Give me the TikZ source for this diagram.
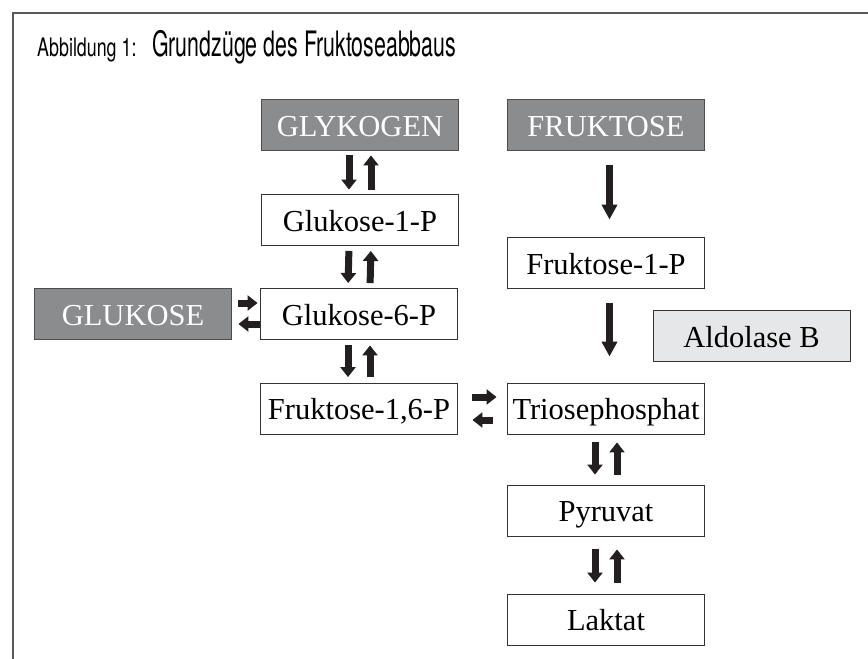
\documentclass[tikz,border=0pt]{standalone}
\usepackage{fontspec}
\setmainfont{Liberation Serif}
\newfontfamily\condfont[FakeStretch=0.61]{TeX Gyre Heros}
\newfontfamily\condsmall[FakeStretch=0.7]{TeX Gyre Heros}
\usetikzlibrary{arrows.meta,calc}
\definecolor{boxdark}{HTML}{8B8C8E}
\definecolor{boxlight}{HTML}{E6E7E8}
\definecolor{arrowc}{HTML}{231F20}
\definecolor{framec}{HTML}{5A5A5A}
\begin{document}
\begin{tikzpicture}[x=1pt,y=-1pt,
  box/.style={draw=black!80, line width=0.9pt, minimum width=197pt, minimum height=51pt,
    inner sep=0pt, text height=22pt, text depth=0pt, font=\fontsize{30.5}{32}\selectfont, fill=white},
  darkbox/.style={box, fill=boxdark, draw=black!70, text=white},
  lightbox/.style={box, fill=boxlight},
  fat/.style={draw=arrowc, line width=7pt, -{Triangle[width=15pt,length=10pt]}},
  longfat/.style={draw=arrowc, line width=7pt, -{Triangle[width=15pt,length=15pt]}},
  sh/.style={shorten <=#1, shorten >=#1}]
\useasboundingbox (0,0) rectangle (868,659);
\draw[framec, line width=1.5pt] (13,659) -- (13,13) -- (868,13);
\node[anchor=base west, font=\condsmall\fontsize{25.5}{28}\selectfont, inner sep=0pt] (t1) at (37,56) {Abbildung 1:};
\node[anchor=base west, font=\condfont\fontsize{35}{38}\selectfont, inner sep=0pt] (t2) at (152,56) {Grundzüge des Fruktoseabbaus};

\node[darkbox] (glyk) at (360,125) {GLYKOGEN};
\node[darkbox] (fru) at (606,125) {FRUKTOSE};
\node[box] (g1p) at (360,220) {Glukose-1-P};
\node[box] (f1p) at (606,263) {Fruktose-1-P};
\node[darkbox] (gluc) at (133,314) {GLUKOSE};
\node[box] (g6p) at (359,314) {Glukose-6-P};
\node[lightbox] (ald) at (751.5,336) {Aldolase B};
\node[box] (f16p) at (359,408.5) {Fruktose-1,6-P};
\node[box] (tri) at (606,408.5) {Triosephosphat};
\node[box] (pyr) at (606,510.5) {Pyruvat};
\node[box] (lak) at (606,619.5) {Laktat};

% vertical pairs
\draw[fat, sh=4.5] ([xshift=-11pt]glyk.south) -- ([xshift=-11pt]g1p.north);
\draw[fat, sh=4.5] ([xshift=11pt]g1p.north) -- ([xshift=11pt]glyk.south);
\draw[fat, sh=5] ([xshift=-11pt]g1p.south) -- ([xshift=-11pt]g6p.north);
\draw[fat, sh=5] ([xshift=11pt]g6p.north) -- ([xshift=11pt]g1p.south);
\draw[fat, sh=5.5] ([xshift=-11pt]g6p.south) -- ([xshift=-11pt]f16p.north);
\draw[fat, sh=5.5] ([xshift=11pt]f16p.north) -- ([xshift=11pt]g6p.south);
\draw[fat, shorten <=8, shorten >=10] ([xshift=-11pt]tri.south) -- ([xshift=-11pt]pyr.north);
\draw[fat, shorten <=10, shorten >=8] ([xshift=11pt]pyr.north) -- ([xshift=11pt]tri.south);
\draw[fat, shorten <=13, shorten >=11] ([xshift=-11pt]pyr.south) -- ([xshift=-11pt]lak.north);
\draw[fat, shorten <=11, shorten >=13] ([xshift=11pt]lak.north) -- ([xshift=11pt]pyr.south);

% fructose line
\draw[longfat, shorten <=14.5, shorten >=17.5] ([xshift=3.5pt]fru.south) -- ([xshift=3.5pt]f1p.north);
\draw[longfat, shorten <=14.5, shorten >=26] ([xshift=3.5pt]f1p.south) -- ([xshift=3.5pt]tri.north);

% horizontal pairs
\draw[fat, shorten <=6.5, shorten >=2.5] ([yshift=11pt]gluc.east) -- ([yshift=11pt]g6p.west);
\draw[fat, shorten <=0, shorten >=6.5] ([yshift=-10pt]g6p.west) -- ([yshift=-10pt]gluc.east);
\draw[fat, shorten <=14.5, shorten >=10.5] ([yshift=11.5pt]f16p.east) -- ([yshift=11.5pt]tri.west);
\draw[fat, shorten <=14.5, shorten >=14.5] ([yshift=-11.5pt]tri.west) -- ([yshift=-11.5pt]f16p.east);
\end{tikzpicture}
\end{document}
